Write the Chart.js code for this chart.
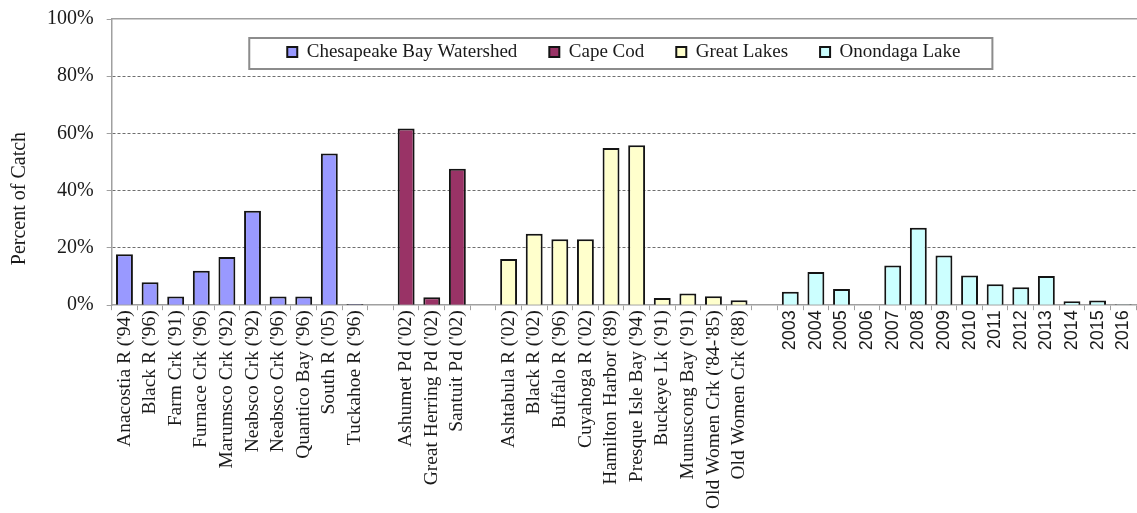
<!DOCTYPE html>
<html>
<head>
<meta charset="utf-8">
<title>Percent of Catch</title>
<script src="https://cdn.jsdelivr.net/npm/chart.js@4/dist/chart.umd.min.js"></script>
<style>
  html, body { margin: 0; padding: 0; background: #fff; }
  #wrap { width: 1137px; height: 513px; }
</style>
</head>
<body>
<div id="wrap"><canvas id="catchChart"></canvas></div>
<script>
// ---- data ----
const chesapeakeSites = ["Anacostia R ('94)", "Black R ('96)", "Farm Crk ('91)", "Furnace Crk ('96)",
  "Marumsco Crk ('92)", "Neabsco Crk ('92)", "Neabsco Crk ('96)", "Quantico Bay ('96)",
  "South R ('05)", "Tuckahoe R ('96)"];
const chesapeakeValues = [17.8, 8.0, 3.0, 12.0, 16.8, 33.0, 3.0, 3.0, 53.0, 0.4];

const capeCodSites = ["Ashumet Pd ('02)", "Great Herring Pd ('02)", "Santuit Pd ('02)"];
const capeCodValues = [61.7, 2.8, 47.7];

const greatLakesSites = ["Ashtabula R ('02)", "Black R ('02)", "Buffalo R ('96)", "Cuyahoga R ('02)",
  "Hamilton Harbor ('89)", "Presque Isle Bay ('94)", "Buckeye Lk ('91)", "Munuscong Bay ('91)",
  "Old Women Crk ('84-'85)", "Old Women Crk ('88)"];
const greatLakesValues = [16.1, 25.0, 23.0, 23.0, 54.9, 55.9, 2.5, 4.1, 3.1, 1.7];

const onondagaYears = ['2003', '2004', '2005', '2006', '2007', '2008', '2009', '2010',
  '2011', '2012', '2013', '2014', '2015', '2016'];
const onondagaValues = [4.7, 11.6, 5.7, null, 13.9, 27.1, 17.4, 10.4, 7.3, 6.3, 10.2, 1.4, 1.6, 0.3];

const yTicks = [0, 20, 40, 60, 80, 100];

// ---- build the category axis: groups separated by one empty slot ----
const groups = [
  { name: 'Chesapeake Bay Watershed', labels: chesapeakeSites, values: chesapeakeValues, color: '#9999ff' },
  { name: 'Cape Cod', labels: capeCodSites, values: capeCodValues, color: '#993366' },
  { name: 'Great Lakes', labels: greatLakesSites, values: greatLakesValues, color: '#ffffcc' },
  { name: 'Onondaga Lake', labels: onondagaYears, values: onondagaValues, color: '#ccffff' }
];

const labels = [];
const starts = [];
groups.forEach((g, i) => {
  if (i > 0) labels.push('');
  starts.push(labels.length);
  labels.push(...g.labels);
});
const yearStart = starts[3];

const datasets = groups.map((g, i) => {
  const data = labels.map(() => null);
  g.values.forEach((v, j) => { data[starts[i] + j] = v; });
  return {
    label: g.name,
    data: data,
    backgroundColor: g.color,
    borderColor: '#141414',
    borderWidth: 2,
    grouped: false,
    barPercentage: 0.66,
    categoryPercentage: 1.0
  };
});

const serif = 'Liberation Serif, Times New Roman, serif';
const sans = 'Liberation Sans, Arial, sans-serif';

// legend drawn inside the plot, in a framed box, like the original
const legendInPlot = {
  id: 'legendInPlot',
  beforeLayout(chart) {
    const lg = chart.legend;
    if (!lg || lg._inPlot) return;
    lg._inPlot = true;
    const fit = lg.fit;
    lg.fit = function () { fit.call(this); this.height = 0; };
    const draw = lg.draw;
    lg.draw = function () {
      const boxes = this.legendHitBoxes;
      if (boxes && boxes.length) {
        const first = boxes[0], last = boxes[boxes.length - 1];
        const x0 = first.left - 38, x1 = last.left + last.width + 32;
        const y0 = first.top - 4.5, y1 = first.top + 26.5;
        const c = this.ctx;
        c.save();
        c.fillStyle = '#fff';
        c.fillRect(x0, y0, x1 - x0, y1 - y0);
        c.strokeStyle = '#8c8c8c';
        c.lineWidth = 2;
        c.strokeRect(x0, y0, x1 - x0, y1 - y0);
        c.restore();
      }
      draw.call(this);
    };
  },
  afterLayout(chart) {
    const lg = chart.legend, area = chart.chartArea;
    if (!lg) return;
    const pad = lg.options.labels.padding;
    lg.left = area.left;
    lg.right = area.right;
    lg.top = area.top + 23.5 - pad;
    lg.bottom = lg.top + 60;
  }
};

new Chart(document.getElementById('catchChart').getContext('2d'), {
  type: 'bar',
  data: { labels: labels, datasets: datasets },
  plugins: [legendInPlot],
  options: {
    responsive: true,
    maintainAspectRatio: false,
    animation: false,
    layout: { padding: { left: 4, right: 1, top: 19, bottom: 4 } },
    plugins: {
      tooltip: { enabled: false },
      legend: {
        position: 'top',
        labels: {
          color: '#1a1a1a',
          boxWidth: 10,
          boxHeight: 10,
          padding: 32,
          font: { family: serif, size: 19 }
        }
      }
    },
    scales: {
      x: {
        offset: true,
        afterFit: (scale) => { scale.paddingRight = 0; scale.paddingLeft = 0; },
        grid: {
          offset: true,
          drawOnChartArea: false,
          drawTicks: true,
          tickLength: 5,
          tickColor: '#a0a0a0',
          tickWidth: 1
        },
        border: { display: true, color: '#a0a0a0', width: 1.5 },
        ticks: {
          autoSkip: false,
          maxRotation: 90,
          minRotation: 90,
          padding: 0,
          color: '#1a1a1a',
          font: (ctx) => (ctx.index >= yearStart
            ? { family: sans, size: 18 }
            : { family: serif, size: 19.5 })
        }
      },
      xTop: {
        type: 'category',
        position: 'top',
        afterFit: (scale) => { scale.paddingRight = 0; scale.paddingLeft = 0; },
        grid: { display: false, drawTicks: false },
        border: { display: true, color: '#a0a0a0', width: 1.5 },
        ticks: { display: false }
      },
      y: {
        min: 0,
        max: 100,
        afterBuildTicks: (axis) => { axis.ticks = yTicks.map(v => ({ value: v })); },
        afterFit: (scale) => { scale.paddingTop = 12; scale.paddingBottom = 12; },
        grid: {
          color: (ctx) => (ctx.tick && (ctx.tick.value === 0 || ctx.tick.value === 100)) ? 'rgba(0,0,0,0)' : '#6e6e6e',
          lineWidth: 1,
          tickColor: '#a0a0a0',
          tickLength: 5,
          tickBorderDash: []
        },
        border: { display: true, color: '#a0a0a0', width: 1.5, dash: [3, 2] },
        ticks: {
          padding: 13,
          color: '#1a1a1a',
          font: { family: serif, size: 20 },
          callback: (v) => v + '%'
        },
        title: {
          display: true,
          align: 'start',
          text: '        Percent of Catch',
          color: '#1a1a1a',
          font: { family: serif, size: 20 },
          padding: { top: 3.5, bottom: 2.5 }
        }
      }
    }
  }
});
</script>
</body>
</html>
